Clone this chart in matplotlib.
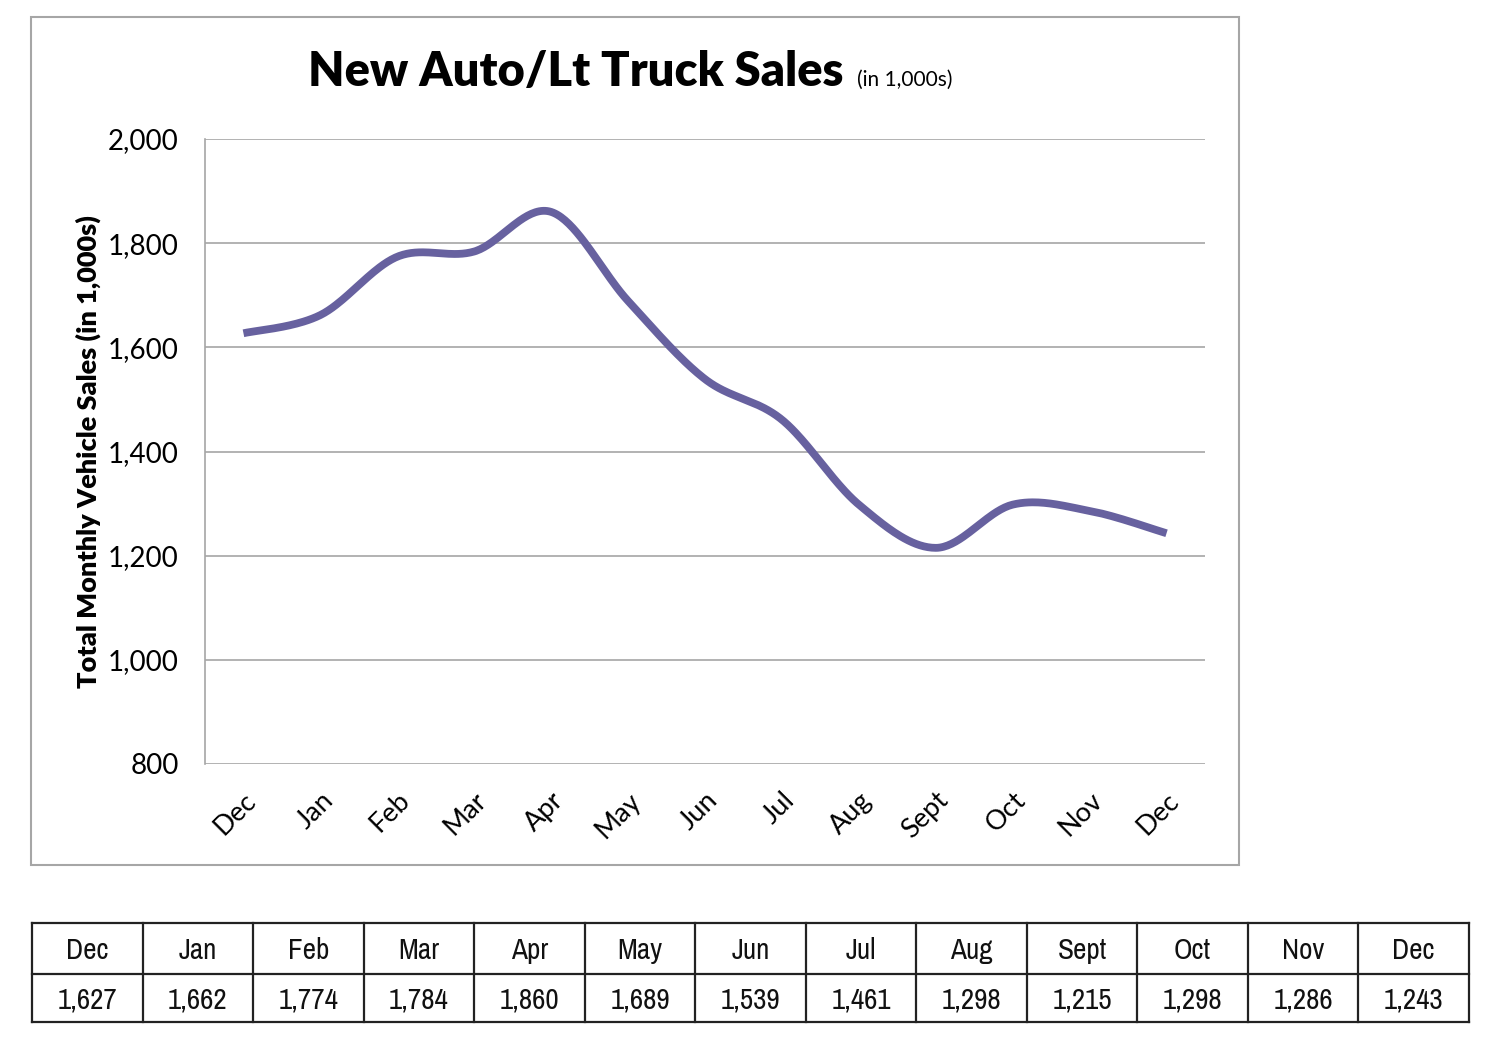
import numpy as np
import matplotlib
matplotlib.use("Agg")
import matplotlib.pyplot as plt
import matplotlib.transforms as mtransforms
from matplotlib.patches import Rectangle
from matplotlib.lines import Line2D
from matplotlib import font_manager

months = ["Dec", "Jan", "Feb", "Mar", "Apr", "May", "Jun", "Jul", "Aug", "Sept", "Oct", "Nov", "Dec"]
sales = [1627, 1662, 1774, 1784, 1860, 1689, 1539, 1461, 1298, 1215, 1298, 1286, 1243]
y_ticks = [800, 1000, 1200, 1400, 1600, 1800, 2000]

title_main = "New Auto/Lt Truck Sales"
title_sub = "(in 1,000s)"
y_label = "Total Monthly Vehicle Sales (in 1,000s)"

LINE_COLOR = "#67619F"
GRID_COLOR = "#A6A6A6"
FONT = ["Lato", "DejaVu Sans"]

# look for a condensed font for the table
narrow = None
for f in font_manager.fontManager.ttflist:
    nm = f.name
    if ("Narrow" in nm or "Condensed" in nm) and f.weight in (400, "normal", "regular"):
        narrow = nm
        break
if narrow is None:
    for f in font_manager.fontManager.ttflist:
        if f.stretch in ("condensed", "semi-condensed", "extra-condensed") or \
           (isinstance(f.stretch, int) and f.stretch < 500):
            narrow = f.name
            break
TABLE_FONT = [narrow, "Roboto", "DejaVu Sans"] if narrow else ["Roboto", "DejaVu Sans"]

W, H = 1500, 1050
fig = plt.figure(figsize=(15, 10.5), dpi=100)
fig.patch.set_facecolor("white")

def fx(px):
    return px / W

def fy(py):
    return 1 - py / H

# chart border
fig.patches.append(Rectangle((fx(31), fy(865)), fx(1239) - fx(31), fy(17) - fy(865),
                             transform=fig.transFigure, fill=False,
                             edgecolor=GRID_COLOR, linewidth=1.5))

ax = fig.add_axes([fx(205), fy(764), fx(1205) - fx(205), fy(139) - fy(764)])

# smooth curve (Bezier through points, Excel-like smoothing)
x = np.arange(len(sales), dtype=float)
y = np.array(sales, dtype=float)
px, py = [], []
n = len(x)
t = np.linspace(0, 1, 40)
for i in range(n - 1):
    p0 = np.array([x[max(i - 1, 0)], y[max(i - 1, 0)]])
    p1 = np.array([x[i], y[i]])
    p2 = np.array([x[i + 1], y[i + 1]])
    p3 = np.array([x[min(i + 2, n - 1)], y[min(i + 2, n - 1)]])
    c1 = p1 + (p2 - p0) / 6.0
    c2 = p2 - (p3 - p1) / 6.0
    for tt in t:
        b = ((1 - tt) ** 3) * p1 + 3 * ((1 - tt) ** 2) * tt * c1 + 3 * (1 - tt) * tt ** 2 * c2 + tt ** 3 * p2
        px.append(b[0]); py.append(b[1])
ax.plot(px, py, color=LINE_COLOR, linewidth=5.6, solid_capstyle="butt", zorder=3)

ax.set_xlim(-0.5, len(months) - 0.5)
ax.set_ylim(800, 2000)
ax.set_yticks(y_ticks)
ax.set_yticklabels([f"{v:,}" for v in y_ticks], fontsize=20, family=FONT)
ax.set_xticks(x)
ax.set_xticklabels(months, rotation=45, ha="right", va="top", rotation_mode="anchor",
                   fontsize=19.5, family=FONT)
offset = mtransforms.ScaledTranslation(-5 / 100, 0, fig.dpi_scale_trans)
for lab in ax.get_xticklabels():
    lab.set_transform(lab.get_transform() + offset)
ax.tick_params(axis="both", length=0)
ax.tick_params(axis="y", pad=19)
ax.tick_params(axis="x", pad=17)
ax.grid(axis="y", color=GRID_COLOR, linewidth=1.2)
ax.set_axisbelow(True)
for s in ["top", "right", "bottom"]:
    ax.spines[s].set_visible(False)
ax.spines["left"].set_color(GRID_COLOR)
ax.spines["left"].set_linewidth(1.2)

fig.text(fx(88), fy(452), y_label, rotation=90, ha="center", va="center",
         fontsize=19.5, fontweight="heavy", family=FONT)

fig.text(fx(843), fy(72), title_main, ha="right", va="center", fontsize=33.8,
         fontweight="heavy", family=FONT)
fig.text(fx(857), fy(80), title_sub, ha="left", va="center", fontsize=15, family=FONT)

# data table (drawn manually on a figure-spanning axes)
tx0, tx1, ty0, tymid, ty1 = 32, 1469, 923, 974, 1022
ncol = len(months)
colw = (tx1 - tx0) / ncol
edge_kw = dict(transform=fig.transFigure, color="#222222", linewidth=1.6)
for yy in (ty0, tymid, ty1):
    fig.add_artist(Line2D([fx(tx0), fx(tx1)], [fy(yy), fy(yy)], **edge_kw))
for k in range(ncol + 1):
    xx = tx0 + k * colw
    fig.add_artist(Line2D([fx(xx), fx(xx)], [fy(ty0), fy(ty1)], **edge_kw))
row_vals = [months, [f"{v:,}" for v in sales]]
row_centers = [(ty0 + tymid) / 2 + 2, (tymid + ty1) / 2 + 2]
for rv, rc in zip(row_vals, row_centers):
    for k, s in enumerate(rv):
        fig.text(fx(tx0 + (k + 0.5) * colw), fy(rc), s, ha="center", va="center",
                 fontsize=21, family=TABLE_FONT, color="#111111")

fig.savefig("out.png", dpi=100, facecolor="white")
